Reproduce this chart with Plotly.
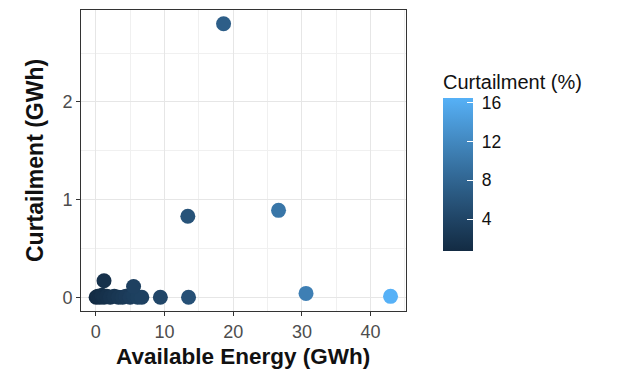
import plotly.graph_objects as go
import numpy as np

# Data
available = [0.05, 0.3, 0.6, 0.9, 1.2, 1.6, 2.1, 2.7, 3.3, 3.9, 4.4, 5.0, 5.5, 6.1, 6.7,
             1.2, 5.5, 9.4, 13.5, 13.4, 18.6, 26.6, 30.6, 42.9]
curtail = [0.0, 0.01, 0.0, 0.02, 0.0, 0.01, 0.0, 0.01, 0.0, 0.0, 0.01, 0.0, 0.02, 0.0, 0.0,
           0.17, 0.11, 0.0, 0.0, 0.83, 2.80, 0.89, 0.04, 0.01]
pct = [0.7, 0.9, 1.0, 1.2, 1.3, 1.5, 1.8, 2.0, 2.3, 2.5, 2.7, 3.0, 3.2, 3.4, 3.6,
       1.5, 3.5, 4.2, 5.5, 5.8, 7.2, 10.0, 11.0, 16.5]

x_ticks = [0, 10, 20, 30, 40]
y_ticks = [0, 1, 2]
cb_ticks = [4, 8, 12, 16]

FONT = "Liberation Sans, Arial, sans-serif"


# ggplot2 default gradient (#132B43 -> #56B1F7) interpolated in Lab space
def srgb_to_lin(c):
    c = c / 255.0
    return np.where(c <= 0.04045, c / 12.92, ((c + 0.055) / 1.055) ** 2.4)


def lin_to_srgb(c):
    c = np.clip(c, 0, 1)
    return np.where(c <= 0.0031308, 12.92 * c, 1.055 * c ** (1 / 2.4) - 0.055) * 255


M = np.array([[0.4124, 0.3576, 0.1805], [0.2126, 0.7152, 0.0722], [0.0193, 0.1192, 0.9505]])
Minv = np.linalg.inv(M)
white = np.array([0.95047, 1.0, 1.08883])


def f(t):
    return np.where(t > (6 / 29) ** 3, np.cbrt(t), t / (3 * (6 / 29) ** 2) + 4 / 29)


def finv(t):
    return np.where(t > 6 / 29, t ** 3, 3 * (6 / 29) ** 2 * (t - 4 / 29))


def to_lab(hexc):
    rgb = np.array([int(hexc[i:i + 2], 16) for i in (1, 3, 5)], dtype=float)
    xyz = M @ srgb_to_lin(rgb) / white
    fx, fy, fz = f(xyz)
    return np.array([116 * fy - 16, 500 * (fx - fy), 200 * (fy - fz)])


def from_lab(lab):
    L, a, b = lab
    fy = (L + 16) / 116
    fx = fy + a / 500
    fz = fy - b / 200
    xyz = np.array([finv(fx), finv(fy), finv(fz)]) * white
    rgb = lin_to_srgb(Minv @ xyz)
    return "rgb(%d,%d,%d)" % tuple(np.round(rgb).astype(int))


lo, hi = to_lab("#132B43"), to_lab("#56B1F7")
colorscale = [[t, from_lab(lo + (hi - lo) * t)] for t in np.linspace(0, 1, 11)]

# plot area in pixels: left 81, right 406, top 10, bottom 311
PL, PR, PT, PB = 81, 406, 10, 311
PW, PH = PR - PL, PB - PT

fig = go.Figure()
fig.add_trace(go.Scatter(
    x=available, y=curtail, mode="markers",
    marker=dict(
        size=15, color=pct, colorscale=colorscale,
        cmin=min(pct), cmax=max(pct), line=dict(width=0),
        colorbar=dict(
            tickvals=cb_ticks, ticktext=["\u00a0" + str(v) for v in cb_ticks],
            ticks="inside", ticklen=6, tickcolor="white", tickwidth=1,
            tickfont=dict(size=17.5, color="#111", family=FONT),
            thickness=30, thicknessmode="pixels",
            len=153, lenmode="pixels",
            xref="paper", yref="paper",
            x=(443 - PL) / PW, xanchor="left",
            y=(PB - 98) / PH, yanchor="top",
            outlinewidth=0, xpad=0, ypad=0,
        ),
    ),
    showlegend=False,
))

axis_common = dict(
    showline=True, mirror=True, linecolor="#333333", linewidth=1,
    showgrid=True, gridcolor="#e6e6e6", gridwidth=1.2,
    zeroline=False, automargin=False,
    ticks="outside", ticklen=4, tickcolor="#333333", tickwidth=1,
    tickfont=dict(size=18, color="#4d4d4d", family=FONT),
)

fig.update_layout(
    width=626, height=371,
    margin=dict(l=PL, r=626 - PR, t=PT, b=371 - PB),
    paper_bgcolor="white", plot_bgcolor="white",
    font=dict(family=FONT),
    xaxis=dict(
        range=[-2.15, 45.15], tickvals=x_ticks,
        minor=dict(dtick=5, tick0=0, showgrid=True, gridcolor="#f0f0f0", gridwidth=0.7, ticks=""),
        **axis_common,
    ),
    yaxis=dict(
        range=[-0.14, 2.94], tickvals=y_ticks,
        minor=dict(dtick=0.5, tick0=0, showgrid=True, gridcolor="#f0f0f0", gridwidth=0.7, ticks=""),
        **axis_common,
    ),
    annotations=[
        dict(text="<b>Available Energy (GWh)</b>", xref="paper", yref="paper",
             x=(243 - PL) / PW, y=(PB - 357) / PH, xanchor="center", yanchor="middle",
             showarrow=False, font=dict(size=22.5, color="#111", family=FONT)),
        dict(text="<b>Curtailment (GWh)</b>", xref="paper", yref="paper",
             x=(35 - PL) / PW, y=(PB - 161) / PH, xanchor="center", yanchor="middle",
             textangle=-90, showarrow=False, font=dict(size=23, color="#111", family=FONT)),
        dict(text="Curtailment (%)", xref="paper", yref="paper",
             x=(441 - PL) / PW, y=(PB - 82) / PH, xanchor="left", yanchor="middle",
             showarrow=False, font=dict(size=20, color="#111", family=FONT)),
    ],
)

fig.write_html("out.html", config={"displayModeBar": False},
               post_script="document.body.style.margin='0px';")
